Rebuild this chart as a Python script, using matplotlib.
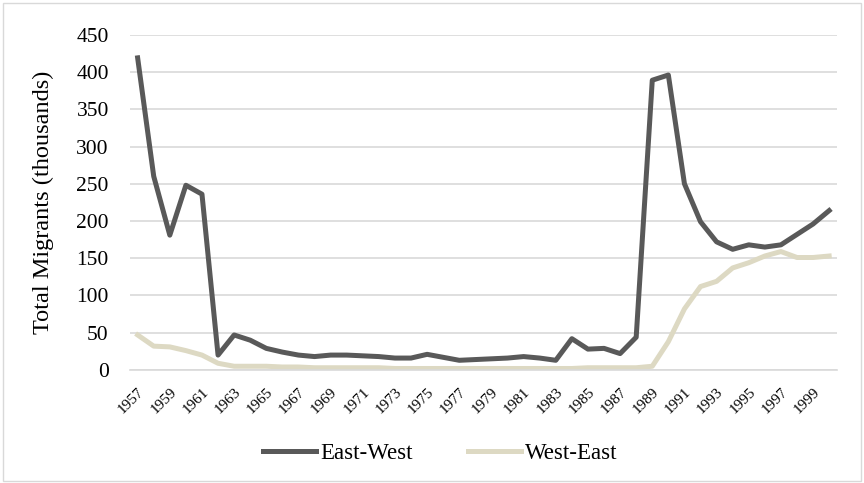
import matplotlib.pyplot as plt
from matplotlib.patches import Rectangle

# Data (thousands of migrants)
years = list(range(1957, 2001))
east_west = [419, 260, 181, 248, 236, 20, 47, 40, 29, 24,
             20, 18, 20, 20, 19, 18, 16, 16, 21, 17,
             13, 14, 15, 16, 18, 16, 13, 42, 28, 29,
             22, 44, 389, 396, 250, 199, 172, 162, 168, 165,
             168, 182, 196, 214]
west_east = [47, 32, 31, 26, 20, 9, 5, 5, 5, 4,
             4, 3, 3, 3, 3, 3, 2, 2, 2, 2,
             2, 2, 2, 2, 2, 2, 2, 2, 3, 3,
             3, 3, 5, 38, 82, 112, 119, 137, 144, 153,
             159, 151, 151, 153]
tick_years = [str(y) for y in range(1957, 2000, 2)]

plt.rcParams['font.family'] = ['Liberation Serif', 'DejaVu Serif']

fig = plt.figure(figsize=(8.64, 4.83), dpi=100)
ax = fig.add_axes([0.150, 0.234, 0.819, 0.694])

x = list(range(len(years)))
ax.plot(x, east_west, color="#595959", lw=3.6, label="East-West", solid_joinstyle="round")
ax.plot(x, west_east, color="#DDD9C3", lw=3.6, label="West-East", solid_joinstyle="round")

ax.set_xlim(-0.5, len(years) - 0.5)
ax.set_ylim(0, 450)
ax.set_yticks(range(0, 451, 50))
ax.set_xticks([years.index(int(t)) for t in tick_years])
ax.set_xticklabels(tick_years, rotation=45, ha="right", rotation_mode="anchor", fontsize=11)
ax.tick_params(axis="both", length=0)
ax.tick_params(axis="y", labelsize=15.5, pad=15)
ax.tick_params(axis="x", pad=11)

ax.grid(axis="y", color="#D9D9D9", lw=1.2)
ax.set_axisbelow(True)
for s in ["top", "right", "left"]:
    ax.spines[s].set_visible(False)
ax.spines["bottom"].set_color("#D9D9D9")
ax.spines["bottom"].set_linewidth(1.2)

ax.set_ylabel("Total Migrants (thousands)", fontsize=17.5, labelpad=16)

fig.legend(loc="center", bbox_to_anchor=(0.51, 0.062), ncol=2, frameon=False,
           prop={"family": ["Liberation Serif"], "size": 16.5},
           handlelength=2.3, columnspacing=2.4, handletextpad=0.2)

# light chart border
fig.patches.append(Rectangle((0.004, 0.004), 0.992, 0.99, transform=fig.transFigure,
                             fill=False, edgecolor="#D9D9D9", lw=1))

fig.savefig("out.png", dpi=100)
